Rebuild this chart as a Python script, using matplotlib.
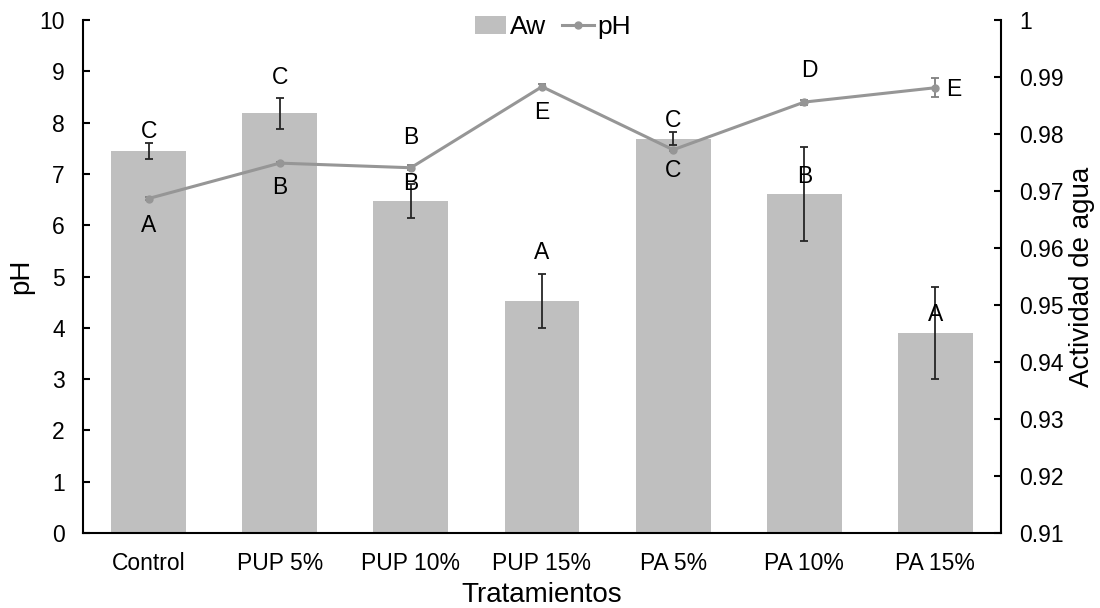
import numpy as np
import matplotlib
matplotlib.use("Agg")
import matplotlib.pyplot as plt
from matplotlib.ticker import FixedLocator, FuncFormatter
from matplotlib.patches import Patch
from matplotlib.lines import Line2D

plt.rcParams["font.family"] = ["Liberation Sans", "DejaVu Sans"]

# Treatments and measured values
treatments = ["Control", "PUP 5%", "PUP 10%", "PUP 15%", "PA 5%", "PA 10%", "PA 15%"]
aw_mean = [0.9770, 0.9836, 0.9683, 0.9507, 0.9792, 0.9695, 0.9451]
aw_sd = [0.0014, 0.0027, 0.0030, 0.0047, 0.0012, 0.0082, 0.0081]
ph_mean = [6.52, 7.21, 7.12, 8.70, 7.47, 8.40, 8.68]
ph_sd = [0.02, 0.02, 0.05, 0.05, 0.02, 0.05, 0.19]

# Significance letters (Tukey groups)
aw_letters = ["C", "C", "B", "A", "C", "B", "A"]
ph_letters = ["A", "B", "B", "E", "C", "D", "E"]

# Letter placement, in pH-axis units
aw_letter_y = [7.82, 8.87, 7.70, 5.46, 8.05, 6.94, 4.25]
ph_letter_y = [6.00, 6.74, 6.82, 8.19, 7.06, 9.01, 8.64]
ph_letter_dx = [0, 0, 0, 0, 0, 0.04, 0.14]

BAR = "#bfbfbf"
LINE = "#969696"
TXT = "#000000"
FS = 16.5

fig = plt.figure(figsize=(11, 6.08), dpi=100)
ax = fig.add_axes([83 / 1100, 1 - 533 / 608, (1001 - 83) / 1100, (533 - 20) / 608])
ax2 = ax.twinx()

x = np.arange(len(treatments))

# Water activity bars on the right axis
ax2.bar(x, aw_mean, width=0.57, color=BAR, zorder=1)
ax2.errorbar(x, aw_mean, yerr=aw_sd, fmt="none", ecolor="#262626",
             elinewidth=1.3, capsize=3, capthick=1.3, zorder=2)
ax2.set_ylim(0.91, 1.0)
ax2.yaxis.set_major_locator(FixedLocator(np.round(np.arange(0.91, 1.0001, 0.01), 2)))
ax2.yaxis.set_major_formatter(FuncFormatter(lambda v, p: f"{v:.2f}".rstrip("0").rstrip(".")))

# pH line on the left axis, drawn above the bars
ax.set_zorder(ax2.get_zorder() + 1)
ax.patch.set_visible(False)
ax.errorbar(x, ph_mean, yerr=ph_sd, color=LINE, lw=2.2, marker="o", ms=5,
            ecolor="#7f7f7f", elinewidth=1.3, capsize=3, capthick=1.3, zorder=3)
ax.set_ylim(0, 10)
ax.set_xlim(-0.5, len(treatments) - 0.5)
ax.set_yticks(np.arange(0, 11, 1))

for i in range(len(treatments)):
    ax.text(x[i], aw_letter_y[i], aw_letters[i], ha="center", va="center",
            fontsize=FS, color=TXT, zorder=5)
    ax.text(x[i] + ph_letter_dx[i], ph_letter_y[i], ph_letters[i], ha="center",
            va="center", fontsize=FS, color=TXT, zorder=5)

ax.set_xticks(x)
ax.set_xticklabels(treatments)

for a in (ax, ax2):
    a.spines["top"].set_visible(False)
    for s in ("left", "right", "bottom"):
        a.spines[s].set_linewidth(1.5)
ax.spines["right"].set_visible(False)
ax2.spines["left"].set_visible(False)
ax2.spines["bottom"].set_visible(False)

ax.tick_params(axis="y", direction="in", length=5, width=1.5, pad=13, labelsize=FS)
ax.tick_params(axis="x", length=0, pad=14, labelsize=FS)
ax2.tick_params(axis="y", direction="in", length=5, width=1.5, pad=13, labelsize=FS)

ax.set_xlabel("Tratamientos", fontsize=20, labelpad=5)
ax.set_ylabel("pH", fontsize=20, labelpad=4)
ax2.set_ylabel("Actividad de agua", fontsize=20, labelpad=4)

# Legend
handles = [Patch(facecolor=BAR, edgecolor="none"),
           Line2D([], [], color=LINE, lw=2.2, marker="o", ms=5)]
ax.legend(handles, ["Aw", "pH"], loc="center", bbox_to_anchor=(0.512, 0.986),
          ncol=2, frameon=False, fontsize=19, handlelength=1.2, handletextpad=0.15,
          columnspacing=0.6, borderaxespad=0)

fig.savefig("out.png", dpi=100)
